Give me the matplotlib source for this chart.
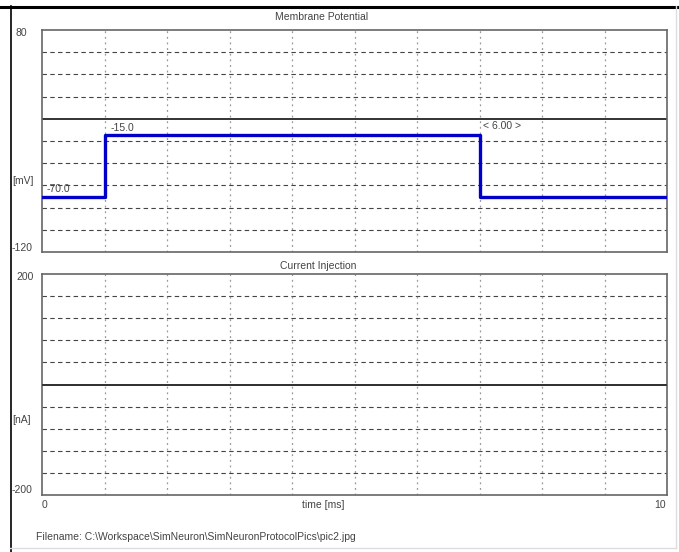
import matplotlib
matplotlib.use("Agg")
import matplotlib.pyplot as plt

# protocol data
step_times = [0, 1, 7, 10]          # ms
step_volts = [-70, -15, -70, -70]   # mV (step, post)
cur_times = [0, 10]
cur_vals = [0, 0]                   # nA
v_lim = [-120, 80]
i_lim = [-200, 200]
t_lim = [0, 10]
v_labels = ["-70.0", "-15.0"]
dur_label = "< 6.00 >"
filename = "Filename: C:\\Workspace\\SimNeuron\\SimNeuronProtocolPics\\pic2.jpg"

plt.rcParams['font.family'] = ['Liberation Sans', 'DejaVu Sans']
fs = 7.5
W, H = 679, 552
fig = plt.figure(figsize=(W / 100, H / 100), dpi=100)

def fx(px):
    return px / W

def fy(py):
    return 1 - py / H

ax1 = fig.add_axes([fx(42), fy(252), fx(625), (252 - 30) / H])
ax2 = fig.add_axes([fx(42), fy(495), fx(625), (495 - 274) / H])

def style(ax, ylim):
    ax.set_xlim(t_lim)
    ax.set_ylim(ylim)
    step = (ylim[1] - ylim[0]) / 10
    for k in range(1, 10):
        y = ylim[0] + k * step
        if abs(y) < 1e-9:
            continue
        ax.axhline(y, color="#444444", lw=0.8, ls=(0, (4, 3)), zorder=1)
    for k in range(1, 10):
        ax.axvline(k, color="#999999", lw=0.9, ls=(0, (1.5, 3)), zorder=1)
    ax.axhline(0, color="#333333", lw=1.4, zorder=2)
    ax.set_xticks([])
    ax.set_yticks([])
    for s in ax.spines.values():
        s.set_color("#666666")
        s.set_linewidth(1.2)

style(ax1, v_lim)
style(ax2, i_lim)

ax1.step(step_times, step_volts, where="post", color="#0000c8", lw=2.4, zorder=3)
ax2.plot(cur_times, cur_vals, color="#333333", lw=1.2, zorder=3)

ax1.text(1.1, step_volts[1] + 2, v_labels[1], fontsize=fs, color="#444444", ha="left", va="bottom")
ax1.text(0.08, step_volts[0] + 2, v_labels[0], fontsize=fs, color="#444444", ha="left", va="bottom")
ax1.text(7.05, step_volts[1] + 4, dur_label, fontsize=fs, color="#444444", ha="left", va="bottom")

txt = dict(fontsize=fs, color="#444444")
fig.text(fx(322), fy(17), "Membrane Potential", ha="center", va="center", **txt)
fig.text(fx(318), fy(266), "Current Injection", ha="center", va="center", **txt)
fig.text(fx(16), fy(33), "80", ha="left", va="center", **txt)
fig.text(fx(12), fy(248), "-120", ha="left", va="center", **txt)
fig.text(fx(12), fy(181), "[mV]", ha="left", va="center", **txt)
fig.text(fx(16), fy(277), "200", ha="left", va="center", **txt)
fig.text(fx(12), fy(490), "-200", ha="left", va="center", **txt)
fig.text(fx(12), fy(420), "[nA]", ha="left", va="center", **txt)
fig.text(fx(42), fy(505), "0", ha="left", va="center", **txt)
fig.text(fx(666), fy(505), "10", ha="right", va="center", **txt)
fig.text(fx(323), fy(505), "time [ms]", ha="center", va="center", **txt)
fig.text(fx(36), fy(537), filename, ha="left", va="center", **txt)

# window frame
fig.add_artist(plt.Line2D([0, 1], [fy(6.5), fy(6.5)], color="black", lw=2.2, transform=fig.transFigure))
fig.add_artist(plt.Line2D([fx(10.5), fx(10.5)], [fy(6), 0], color="black", lw=1.2, transform=fig.transFigure))
fig.add_artist(plt.Line2D([fx(676), fx(676)], [fy(6), fy(548)], color="#dddddd", lw=1, transform=fig.transFigure))
fig.add_artist(plt.Line2D([fx(10), fx(676)], [fy(548), fy(548)], color="#dddddd", lw=1, transform=fig.transFigure))

fig.savefig("out.png", dpi=100)
